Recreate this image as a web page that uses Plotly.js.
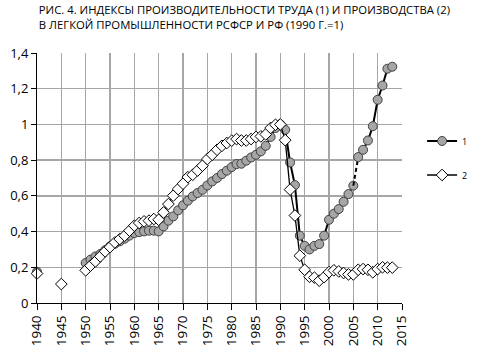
<!DOCTYPE html>
<html><head><meta charset="utf-8">
<script src="https://cdn.plot.ly/plotly-3.0.1.min.js"></script>
<style>body{margin:0;background:#fff}#c{width:487px;height:358px}</style>
</head><body><div id="c"></div>
<script>
var years = [1940,1941,1942,1943,1944,1945,1946,1947,1948,1949,
 1950,1951,1952,1953,1954,1955,1956,1957,1958,1959,
 1960,1961,1962,1963,1964,1965,1966,1967,1968,1969,
 1970,1971,1972,1973,1974,1975,1976,1977,1978,1979,
 1980,1981,1982,1983,1984,1985,1986,1987,1988,1989,
 1990,1991,1992,1993,1994,1995,1996,1997,1998,1999,
 2000,2001,2002,2003,2004,2005,2006,2007,2008,2009,
 2010,2011,2012,2013];
var labourProductivity = [0.175,null,null,null,null,null,null,null,null,null,
 0.224,0.243,0.261,0.274,0.295,0.317,0.332,0.345,0.36,0.377,
 0.392,0.397,0.401,0.405,0.405,0.401,0.429,0.461,0.485,0.519,
 0.547,0.573,0.597,0.616,0.634,0.658,0.681,0.70,0.722,0.741,
 0.761,0.778,0.78,0.797,0.815,0.83,0.849,0.88,0.93,0.98,
 1.0,0.97,0.787,0.66,0.377,0.32,0.30,0.32,0.33,0.377,
 0.466,0.50,0.526,0.567,0.61,0.657,0.817,0.858,0.91,0.99,
 1.138,1.218,1.312,1.323];
var production = [0.165,null,null,null,null,0.106,null,null,null,null,
 0.183,0.209,0.233,0.261,0.289,0.313,0.339,0.358,0.377,0.405,
 0.433,0.448,0.457,0.461,0.47,0.466,0.507,0.554,0.601,0.638,
 0.668,0.705,0.718,0.742,0.769,0.806,0.83,0.858,0.88,0.896,
 0.909,0.918,0.91,0.91,0.918,0.93,0.933,0.944,0.98,0.998,
 1.0,0.912,0.635,0.49,0.265,0.186,0.147,0.142,0.125,0.145,
 0.173,0.183,0.177,0.168,0.16,0.16,0.186,0.19,0.186,0.172,
 0.19,0.2,0.198,0.198];
var seriesNames = ['1','2'];
var titleText = 'РИС. 4. ИНДЕКСЫ ПРОИЗВОДИТЕЛЬНОСТИ ТРУДА (1) И ПРОИЗВОДСТВА (2)<br>В ЛЕГКОЙ ПРОМЫШЛЕННОСТИ РСФСР И РФ (1990 Г.=1)';

var cut = years.indexOf(2005);
var m1 = {symbol:'circle', size:9, color:'#a6a6a6', line:{color:'#404040', width:1}};
var m2 = {symbol:'diamond', size:9, color:'#ffffff', line:{color:'#000000', width:1}};
var traces = [
 {x:years.slice(0,cut+1), y:labourProductivity.slice(0,cut+1), mode:'lines+markers', name:seriesNames[0],
  legendgroup:'a', cliponaxis:false, line:{color:'#000', width:2}, marker:m1},
 {x:years.slice(cut,cut+2), y:labourProductivity.slice(cut,cut+2), mode:'lines', showlegend:false,
  legendgroup:'a', line:{color:'#000', width:2, dash:'4px,3px'}},
 {x:years.slice(cut+1), y:labourProductivity.slice(cut+1), mode:'lines+markers', showlegend:false,
  legendgroup:'a', cliponaxis:false, line:{color:'#000', width:2}, marker:m1},
 {x:years, y:production, mode:'lines+markers', name:seriesNames[1], cliponaxis:false,
  legendgroup:'b', line:{color:'#000', width:1.3}, marker:m2}
];
var layout = {
 width:487, height:358,
 margin:{l:37, r:85, t:53, b:55},
 paper_bgcolor:'#fff', plot_bgcolor:'#fff',
 separators:', ',
 font:{family:'Open Sans, sans-serif', color:'#000', size:12},
 title:{text:titleText, x:0.005, xanchor:'left', xref:'paper', y:0.96, yanchor:'top', yref:'container',
   font:{family:'Open Sans, sans-serif', size:11.3, color:'#000'}},
 showlegend:true,
 legend:{x:1.055, y:0.706, xanchor:'left', yanchor:'top', traceorder:'grouped', tracegroupgap:15,
   font:{size:9, color:'#000'}, bgcolor:'rgba(0,0,0,0)', itemwidth:30},
 xaxis:{range:[1940,2015], dtick:5, tick0:1940, tickangle:-90, showgrid:true, gridcolor:'#a6a6a6', gridwidth:1.5,
   zeroline:false, showline:true, linecolor:'#000', linewidth:1, ticks:'outside', ticklen:6, tickcolor:'#000',
   tickfont:{size:13.5}},
 yaxis:{range:[0,1.4], dtick:0.2, showgrid:true, gridcolor:'#a6a6a6', gridwidth:1.5, zeroline:false,
   showline:true, linecolor:'#000', linewidth:1, ticks:'outside', ticklen:5, tickcolor:'#000',
   tickfont:{size:13}}
};
Plotly.newPlot('c', traces, layout, {displayModeBar:false, staticPlot:true});
</script></body></html>
